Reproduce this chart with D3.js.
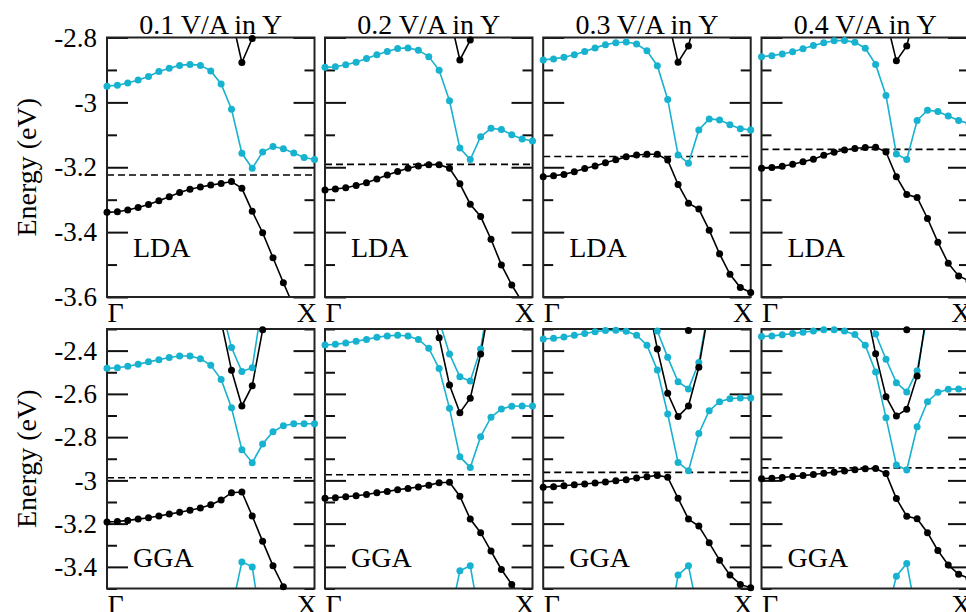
<!DOCTYPE html>
<html>
<head>
<meta charset="utf-8">
<script src="https://cdn.jsdelivr.net/npm/d3@7"></script>
<style>
  html, body { margin: 0; padding: 0; background: #fff; }
  svg { display: block; }
  svg text { font-family: "Liberation Serif", "Times New Roman", serif !important; }
</style>
</head>
<body>
<svg id="bands-chart"></svg>
<script>
// k-point index along the Gamma -> X path
const kIndex = [0, 1, 2, 3, 4, 5, 6, 7, 8, 9, 10, 11, 12, 13, 14, 15, 16, 17, 18, 19, 20];
const pathLabels = ["Γ", "X"];
const fieldLabels = ["0.1 V/A in Y", "0.2 V/A in Y", "0.3 V/A in Y", "0.4 V/A in Y"];
const methodLabels = ["LDA", "GGA"];

const ldaTicks = [-2.8, -3, -3.2, -3.4, -3.6];
const ldaTickLabels = ["-2.8", "-3", "-3.2", "-3.4", "-3.6"];
const ldaMinorTicks = [-2.9, -3.1, -3.3, -3.5];
const ggaTicks = [-2.4, -2.6, -2.8, -3, -3.2, -3.4];
const ggaTickLabels = ["-2.4", "-2.6", "-2.8", "-3", "-3.2", "-3.4"];
const ggaMinorTicks = [-2.3, -2.5, -2.7, -2.9, -3.1, -3.3, -3.5];

// dashed reference level for each field
const ldaLevel = [-3.224, -3.191, -3.167, -3.145];
const ggaLevel = [-2.988, -2.974, -2.963, -2.942];

const N = null;

// LDA bands
const ldaCond01 = [-2.950, -2.947, -2.940, -2.931, -2.920, -2.905, -2.895, -2.886, -2.883, -2.886, -2.903, -2.943, -3.021, -3.157, -3.203, -3.153, -3.136, -3.143, -3.156, -3.170, -3.176];
const ldaVal01 = [-3.339, -3.337, -3.332, -3.324, -3.315, -3.303, -3.291, -3.278, -3.268, -3.261, -3.255, -3.250, -3.244, -3.265, -3.336, -3.402, -3.479, -3.556, -3.630, N, N];
const ldaUp01 = [N, N, N, N, N, N, N, N, N, N, N, N, -2.735, -2.877, -2.803, -2.700, N, N, N, N, N];

const ldaCond02 = [-2.892, -2.890, -2.884, -2.876, -2.865, -2.853, -2.843, -2.834, -2.832, -2.839, -2.859, -2.901, -2.995, -3.141, -3.176, -3.106, -3.080, -3.084, -3.100, -3.113, -3.119];
const ldaVal02 = [-3.270, -3.267, -3.263, -3.256, -3.248, -3.236, -3.224, -3.213, -3.203, -3.196, -3.192, -3.192, -3.203, -3.251, -3.314, -3.352, -3.422, -3.501, -3.563, -3.615, N];
const ldaUp02 = [N, N, N, N, N, N, N, N, N, N, N, N, -2.730, -2.869, -2.808, -2.700, N, N, N, N, N];

const ldaCond03 = [-2.869, -2.866, -2.861, -2.853, -2.843, -2.832, -2.822, -2.816, -2.814, -2.820, -2.841, -2.887, -2.991, -3.162, -3.188, -3.085, -3.051, -3.054, -3.069, -3.081, -3.085];
const ldaVal03 = [-3.229, -3.226, -3.222, -3.214, -3.204, -3.196, -3.186, -3.177, -3.168, -3.162, -3.160, -3.160, -3.178, -3.253, -3.311, -3.329, -3.394, -3.467, -3.530, -3.571, -3.586];
const ldaUp03 = [N, N, N, N, N, N, N, N, N, N, N, N, -2.740, -2.876, -2.826, -2.700, N, N, N, N, N];

const ldaCond04 = [-2.859, -2.856, -2.851, -2.844, -2.835, -2.825, -2.816, -2.810, -2.809, -2.815, -2.833, -2.883, -2.979, -3.159, -3.176, -3.056, -3.024, -3.028, -3.042, -3.056, -3.065];
const ldaVal04 = [-3.203, -3.201, -3.197, -3.191, -3.183, -3.175, -3.163, -3.154, -3.147, -3.142, -3.139, -3.138, -3.153, -3.229, -3.284, -3.293, -3.358, -3.431, -3.496, -3.535, -3.550];
const ldaUp04 = [N, N, N, N, N, N, N, N, N, N, N, N, -2.740, -2.872, -2.826, -2.700, N, N, N, N, N];

// GGA bands
const ggaCond01 = [-2.482, -2.479, -2.472, -2.463, -2.452, -2.442, -2.432, -2.425, -2.425, -2.437, -2.468, -2.533, -2.664, -2.858, -2.918, -2.832, -2.775, -2.747, -2.738, -2.738, -2.738];
const ggaUpC01 = [N, N, N, N, N, N, N, N, N, N, N, -2.195, -2.386, -2.497, -2.479, -2.170, N, N, N, N, N];
const ggaUpK01 = [N, N, N, N, N, N, N, N, N, N, N, -2.263, -2.491, -2.656, -2.562, -2.304, -2.100, N, N, N, N];
const ggaVal01 = [-3.192, -3.190, -3.185, -3.179, -3.173, -3.165, -3.156, -3.147, -3.138, -3.128, -3.113, -3.091, -3.057, -3.054, -3.165, -3.282, -3.395, -3.492, -3.600, N, N];
const ggaLow01 = [N, N, N, N, N, N, N, N, N, N, N, N, -3.602, -3.377, -3.400, -3.710, N, N, N, N, N];
const ggaTopK01 = [N, N, N, N, N, N, N, N, N, N, N, N, N, N, N, N, N, N, N, N, N];

const ggaCond02 = [-2.374, -2.371, -2.365, -2.357, -2.348, -2.338, -2.332, -2.329, -2.332, -2.348, -2.389, -2.483, -2.667, -2.891, -2.940, -2.798, -2.708, -2.670, -2.657, -2.656, -2.656];
const ggaUpC02 = [N, N, N, N, N, N, N, N, N, N, N, -2.260, -2.416, -2.521, -2.541, -2.392, -2.100, N, N, N, N];
const ggaUpK02 = [N, N, N, N, N, N, N, N, N, N, -2.140, -2.340, -2.559, -2.687, -2.620, -2.416, -2.150, N, N, N, N];
const ggaVal02 = [-3.083, -3.080, -3.076, -3.071, -3.065, -3.057, -3.051, -3.043, -3.037, -3.031, -3.022, -3.011, -3.009, -3.073, -3.179, -3.242, -3.327, -3.412, -3.481, -3.550, N];
const ggaLow02 = [N, N, N, N, N, N, N, N, N, N, N, N, -3.648, -3.418, -3.395, -3.667, N, N, N, N, N];
const ggaTopK02 = [N, N, N, N, N, N, N, N, N, N, N, N, N, N, N, N, N, N, N, N, N];

const ggaCond03 = [-2.346, -2.343, -2.337, -2.329, -2.321, -2.313, -2.307, -2.306, -2.310, -2.329, -2.375, -2.490, -2.693, -2.917, -2.955, -2.783, -2.678, -2.636, -2.622, -2.619, -2.619];
const ggaUpC03 = [N, N, N, N, N, N, N, N, N, N, -2.200, -2.309, -2.431, -2.544, -2.577, -2.455, -2.187, N, N, N, N];
const ggaUpK03 = [N, N, N, N, N, N, N, N, N, N, -2.153, -2.392, -2.597, -2.705, -2.656, -2.477, -2.200, N, N, N, N];
const ggaVal03 = [-3.032, -3.029, -3.025, -3.020, -3.017, -3.012, -3.008, -3.002, -2.997, -2.989, -2.983, -2.977, -2.985, -3.083, -3.179, -3.211, -3.289, -3.369, -3.438, -3.481, -3.497];
const ggaLow03 = [N, N, N, N, N, N, N, N, N, N, N, N, -3.711, -3.438, -3.395, -3.628, N, N, N, N, N];
const ggaTopK03 = [N, N, N, N, N, N, N, N, N, N, N, N, N, N, -2.307, N, N, N, N, N, N];

const ggaCond04 = [-2.335, -2.332, -2.327, -2.321, -2.315, -2.309, -2.304, -2.303, -2.309, -2.326, -2.375, -2.499, -2.710, -2.929, -2.952, -2.752, -2.636, -2.593, -2.579, -2.577, -2.577];
const ggaUpC04 = [N, N, N, N, N, N, N, N, N, N, -2.200, -2.323, -2.440, -2.548, -2.591, -2.493, -2.233, N, N, N, N];
const ggaUpK04 = [N, N, N, N, N, N, N, N, N, N, -2.180, -2.415, -2.613, -2.702, -2.671, -2.517, -2.200, N, N, N, N];
const ggaVal04 = [-2.992, -2.990, -2.987, -2.982, -2.978, -2.973, -2.967, -2.962, -2.957, -2.951, -2.946, -2.945, -2.968, -3.084, -3.166, -3.177, -3.242, -3.324, -3.391, -3.434, -3.453];
const ggaLow04 = [N, N, N, N, N, N, N, N, N, N, N, N, -3.639, -3.443, -3.384, -3.641, N, N, N, N, N];
const ggaTopK04 = [N, N, N, N, N, N, N, N, N, N, N, N, N, N, -2.304, N, N, N, N, N, N];

// colours
const CYAN = "#17b2cf";
const BLACK = "#000";

// layout
const width = 966, height = 612;
const colLeft = [107, 325, 543.2, 761.5];
const panelW = 207.5;
const panelH = 259.5;
const FONT = "'Liberation Serif', 'Times New Roman', serif";

const rows = [
    {
        top: 37.5, domain: [-3.6, -2.8],
        ticks: ldaTicks, tickLabels: ldaTickLabels, minor: ldaMinorTicks,
        level: ldaLevel, label: methodLabels[0], labelY: 257,
        bands: [
            [[ldaCond01, CYAN], [ldaVal01, BLACK], [ldaUp01, BLACK]],
            [[ldaCond02, CYAN], [ldaVal02, BLACK], [ldaUp02, BLACK]],
            [[ldaCond03, CYAN], [ldaVal03, BLACK], [ldaUp03, BLACK]],
            [[ldaCond04, CYAN], [ldaVal04, BLACK], [ldaUp04, BLACK]]
        ]
    },
    {
        top: 329, domain: [-3.5, -2.3],
        ticks: ggaTicks, tickLabels: ggaTickLabels, minor: ggaMinorTicks,
        level: ggaLevel, label: methodLabels[1], labelY: 567,
        bands: [
            [[ggaCond01, CYAN], [ggaUpC01, CYAN], [ggaLow01, CYAN], [ggaUpK01, BLACK], [ggaVal01, BLACK], [ggaTopK01, BLACK]],
            [[ggaCond02, CYAN], [ggaUpC02, CYAN], [ggaLow02, CYAN], [ggaUpK02, BLACK], [ggaVal02, BLACK], [ggaTopK02, BLACK]],
            [[ggaCond03, CYAN], [ggaUpC03, CYAN], [ggaLow03, CYAN], [ggaUpK03, BLACK], [ggaVal03, BLACK], [ggaTopK03, BLACK]],
            [[ggaCond04, CYAN], [ggaUpC04, CYAN], [ggaLow04, CYAN], [ggaUpK04, BLACK], [ggaVal04, BLACK], [ggaTopK04, BLACK]]
        ]
    }
];

let svg;

document.addEventListener("DOMContentLoaded", function() {
    svg = d3.select("#bands-chart")
        .attr("width", width)
        .attr("height", height)
        .attr("font-family", FONT);

    rows.forEach((row, r) => {
        colLeft.forEach((left, c) => drawPanel(row, r, c, left));
        // y axis title
        svg.append("text")
            .attr("transform", `translate(36,${row.top + panelH / 2}) rotate(-90)`)
            .attr("text-anchor", "middle")
            .attr("font-family", FONT)
            .style("font-size", "28px")
            .text("Energy (eV)");
    });

    // field titles over the top row
    fieldLabels.forEach((t, c) => {
        svg.append("text")
            .attr("x", colLeft[c] + panelW / 2)
            .attr("y", 34)
            .attr("text-anchor", "middle")
            .attr("font-family", FONT)
            .style("font-size", "28px")
            .text(t);
    });
});

function drawPanel(row, r, c, left) {
    const top = row.top;
    const x = d3.scaleLinear().domain([kIndex[0], kIndex[kIndex.length - 1]]).range([left, left + panelW]);
    const y = d3.scaleLinear().domain(row.domain).range([top + panelH, top]);
    const g = svg.append("g");
    const clipId = `clip-${r}-${c}`;

    g.append("clipPath").attr("id", clipId)
        .append("rect")
        .attr("x", left).attr("y", top)
        .attr("width", panelW).attr("height", panelH);

    // inward ticks, both sides
    const addAxis = (axis, xpos, cls) => {
        g.append("g")
            .attr("class", cls)
            .attr("transform", `translate(${xpos},0)`)
            .call(axis)
            .attr("font-family", FONT)
            .attr("font-size", 27)
            .call(s => s.select(".domain").remove())
            .call(s => s.selectAll("line").attr("stroke", "#111").attr("stroke-width", 2))
            .call(s => s.selectAll("text").attr("fill", "#000"));
    };
    addAxis(d3.axisLeft(y).tickValues(row.ticks).tickSize(-21).tickPadding(10)
        .tickFormat((d, i) => c === 0 ? row.tickLabels[i] : ""), left, "y-major");
    addAxis(d3.axisLeft(y).tickValues(row.minor).tickSize(-10).tickFormat(""), left, "y-minor");
    addAxis(d3.axisRight(y).tickValues(row.ticks).tickSize(-21).tickFormat(""), left + panelW, "y-major-r");
    addAxis(d3.axisRight(y).tickValues(row.minor).tickSize(-10).tickFormat(""), left + panelW, "y-minor-r");

    // Gamma / X labels
    g.append("g")
        .attr("transform", `translate(0,${top + panelH})`)
        .call(d3.axisBottom(x).tickValues([kIndex[0], kIndex[kIndex.length - 1]]).tickSize(0)
            .tickFormat((d, i) => pathLabels[i]))
        .attr("font-family", FONT)
        .attr("font-size", 28)
        .call(s => s.select(".domain").remove())
        .call(s => s.selectAll("text")
            .attr("y", 25).attr("dy", null)
            .attr("fill", "#000")
            .attr("text-anchor", (d, i) => i === 0 ? "start" : "end")
            .attr("dx", (d, i) => i === 0 ? 0 : 2));

    // dashed level
    g.append("line")
        .attr("x1", x(kIndex[0])).attr("x2", x(kIndex[kIndex.length - 1]))
        .attr("y1", y(row.level[c])).attr("y2", y(row.level[c]))
        .attr("stroke", "#000")
        .attr("stroke-width", 1.6)
        .attr("stroke-dasharray", "7,4");

    // band lines (clipped to the frame)
    const line = d3.line()
        .defined(d => d.e !== null)
        .x(d => x(d.k))
        .y(d => y(d.e));

    const bands = row.bands[c].map(([vals, color]) => ({
        color: color,
        pts: kIndex.map((k, i) => ({ k: k, e: vals[i] }))
    }));

    const lineLayer = g.append("g").attr("clip-path", `url(#${clipId})`);
    bands.forEach(b => {
        lineLayer.append("path")
            .datum(b.pts)
            .attr("fill", "none")
            .attr("stroke", b.color)
            .attr("stroke-width", 1.6)
            .attr("d", line);
    });

    // frame
    g.append("rect")
        .attr("x", left).attr("y", top)
        .attr("width", panelW).attr("height", panelH)
        .attr("fill", "none")
        .attr("stroke", "#222")
        .attr("stroke-width", 2);

    // markers for points inside the range
    const [lo, hi] = row.domain;
    bands.forEach(b => {
        g.append("g").selectAll("circle")
            .data(b.pts.filter(d => d.e !== null && d.e >= lo - 0.01 && d.e <= hi + 0.01))
            .enter()
            .append("circle")
            .attr("cx", d => x(d.k))
            .attr("cy", d => y(d.e))
            .attr("r", 3.5)
            .attr("fill", b.color);
    });

    // method label
    g.append("text")
        .attr("x", left + 26)
        .attr("y", row.labelY)
        .attr("font-family", FONT)
        .style("font-size", "28px")
        .text(row.label);
}
</script>
</body>
</html>
